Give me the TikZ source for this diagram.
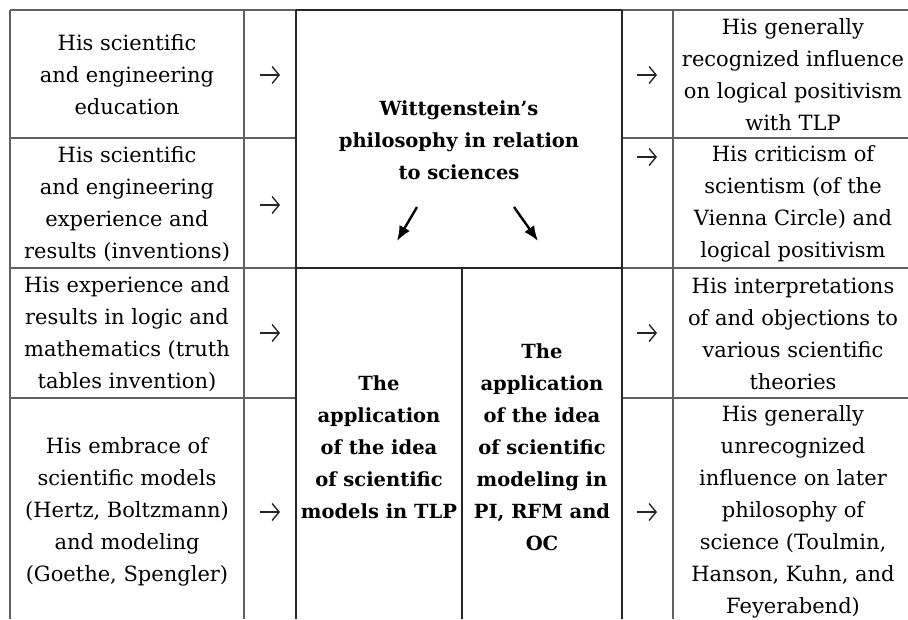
\documentclass[tikz,border=0pt]{standalone}
\usepackage{fontspec}
\setmainfont{DejaVu Serif}
\usetikzlibrary{arrows.meta}
\begin{document}
\begin{tikzpicture}[x=1pt,y=-1pt,
  thinline/.style={draw=black!62, line width=1.3pt},
  thickline/.style={draw=black!85, line width=1.8pt},
  cell/.style={align=center, inner sep=0pt, font=\fontsize{21}{32}\selectfont, text=black},
  boldcell/.style={align=center, inner sep=0pt, font=\fontsize{19.5}{32}\selectfont\bfseries, text=black},
  glypharrow/.style={-{Straight Barb[length=7pt,width=17pt,line width=1.4pt]}, line width=1.4pt, black!85},
  diag/.style={-{Latex[length=15pt,width=12pt]}, line width=2.4pt, black}]
\useasboundingbox (0,0) rectangle (908,619);

% grid lines (thin)
\draw[thinline] (10,10) -- (296,10);
\draw[thinline] (622,10) -- (908,10);
\draw[thinline] (10,10) -- (10,619);
\draw[thinline] (244,10) -- (244,619);
\draw[thinline] (673,10) -- (673,619);
\draw[thinline] (10,138) -- (296,138);
\draw[thinline] (622,138) -- (908,138);
\draw[thinline] (10,268) -- (296,268);
\draw[thinline] (622,268) -- (908,268);
\draw[thinline] (10,398) -- (296,398);
\draw[thinline] (622,398) -- (908,398);
% central block (thick)
\draw[thickline] (296,10) -- (622,10);
\draw[thickline] (296,10) -- (296,619);
\draw[thickline] (622,10) -- (622,619);
\draw[thickline] (296,268) -- (622,268);
\draw[thickline] (462,268) -- (462,619);

% left column texts
\node[cell] (l1) at (127,75) {His scientific\\and engineering\\education};
\node[cell] (l2) at (127,204) {His scientific\\and engineering\\experience and\\results (inventions)};
\node[cell] (l3) at (127,334) {His experience and\\results in logic and\\mathematics (truth\\tables invention)};
\node[cell] (l4) at (127,512) {His embrace of\\scientific models\\(Hertz, Boltzmann)\\and modeling\\(Goethe, Spengler)};

% right column texts
\node[cell] (r1) at (793,75) {His generally\\recognized influence\\on logical positivism\\with TLP};
\node[cell] (r2) at (793,204) {His criticism of\\scientism (of the\\Vienna Circle) and\\logical positivism};
\node[cell] (r3) at (793,334) {His interpretations\\of and objections to\\various scientific\\theories};
\node[cell] (r4) at (793,512) {His generally\\unrecognized\\influence on later\\philosophy of\\science (Toulmin,\\Hanson, Kuhn, and\\Feyerabend)};

% centre texts
\node[boldcell] (c0) at (459,140) {Wittgenstein’s\\philosophy in relation\\to sciences};
\node[boldcell] (c1) at (379,447) {The\\application\\of the idea\\of scientific\\models in TLP};
\node[boldcell] (c2) at (542,447) {The\\application\\of the idea\\of scientific\\modeling in\\PI, RFM and\\OC};

% arrow glyphs
\coordinate (al1) at (270,75);
\coordinate (al2) at (270,205);
\coordinate (al3) at (270,333);
\coordinate (al4) at (270,512);
\coordinate (ar1) at (647,75);
\coordinate (ar2) at (647,157);
\coordinate (ar3) at (647,333);
\coordinate (ar4) at (647,512);
\foreach \a in {al1,al2,al3,al4,ar1,ar2,ar3,ar4}
  \draw[glypharrow] (\a) ++(-10,0) -- ++(20,0);

% diagonal arrows
\coordinate (d1s) at (417,207);
\coordinate (d1e) at (397,241);
\coordinate (d2s) at (514,207);
\coordinate (d2e) at (538,241);
\draw[diag] (d1s) -- (d1e);
\draw[diag] (d2s) -- (d2e);
\end{tikzpicture}
\end{document}
